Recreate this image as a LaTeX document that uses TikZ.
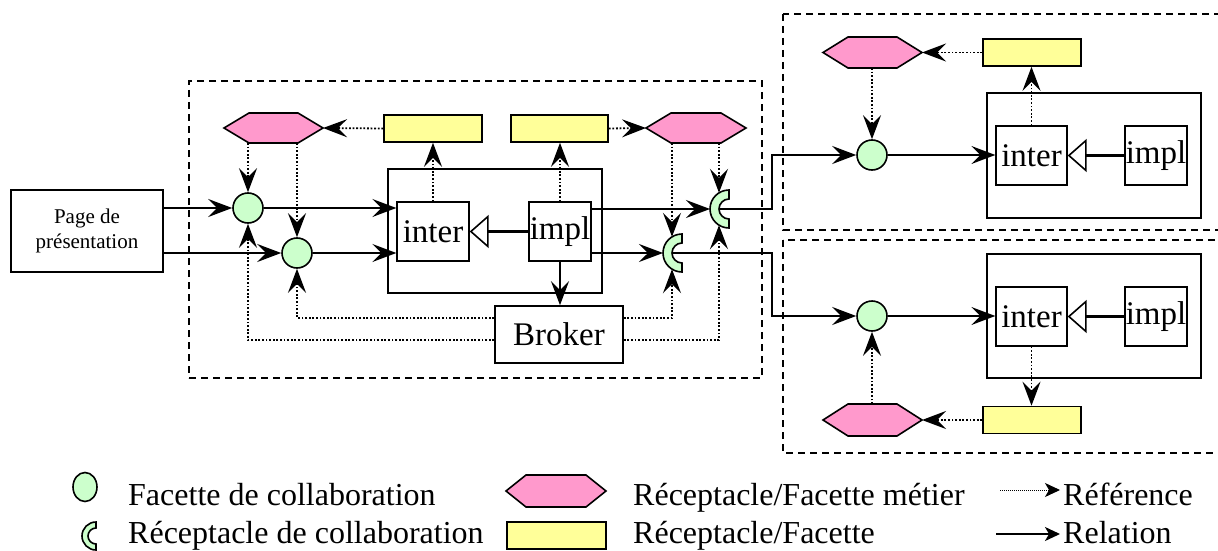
\documentclass[tikz,border=0pt]{standalone}
\usepackage{fontspec}
\setmainfont{Liberation Serif}
\usetikzlibrary{arrows.meta,shapes.geometric}
\definecolor{cgreen}{HTML}{CCFFCC}
\definecolor{cpink}{HTML}{FF99CC}
\definecolor{cyellow}{HTML}{FFFF99}
\newcommand\hexdraw[2]{%
  \draw[line width=1.6pt, fill=cpink, line join=miter] (#1.west) -- ([xshift=#2]#1.north west) -- ([xshift=-#2]#1.north east) -- (#1.east) -- ([xshift=-#2]#1.south east) -- ([xshift=#2]#1.south west) -- cycle;}
\newcommand\recdraw[3]{%
  \draw[line width=1.6pt, fill=cgreen] (#1.north) arc[start angle=90,end angle=270,radius=#2] -- ([yshift=-#3]#1.center) arc[start angle=270,end angle=90,radius=#3] -- cycle;}
\tikzset{
  big/.style={font=\fontsize{33}{38}\selectfont},
  hexa/.style={draw=none, inner sep=0pt, outer sep=0pt, minimum width=99pt, minimum height=30pt},
  ybox/.style={draw, line width=1.6pt, fill=cyellow, inner sep=0pt, minimum width=98pt, minimum height=27pt},
  facette/.style={circle, draw, line width=1.6pt, fill=cgreen, inner sep=0pt, minimum size=30pt},
  recep/.style={circle, draw=none, inner sep=0pt, outer sep=0pt, minimum size=38pt},
  compbox/.style={draw, line width=1.8pt, minimum width=214pt, minimum height=124pt},
  ibox/.style={draw, line width=1.3pt, big, inner sep=0pt, minimum height=59pt},
  dbox/.style={draw, line width=1.7pt, dash pattern=on 7pt off 5pt},
  rel/.style={line width=1.8pt, -{Stealth[length=24pt,width=18pt,inset=9pt]}},
  ref/.style={line width=1.8pt, dash pattern=on 1.8pt off 1.8pt, -{Stealth[length=24pt,width=18pt,inset=9pt]}},
  inherit/.style={line width=3pt, -{Triangle[length=19pt,width=33pt,fill=white,line width=1.6pt]}},
}
\begin{document}
\begin{tikzpicture}[x=1pt,y=-1pt]
\useasboundingbox (0,0) rectangle (1218,551);
\clip (0,0) rectangle (1218,551);
% dashed containers
\node[dbox, minimum width=573pt, minimum height=297pt] (lbox) at (475.5,229.5) {};
\draw[dbox] (783,14) rectangle (1260,230);
\draw[dbox] (783,240) rectangle (1260,453);

% left part
\node[draw, line width=1.6pt, minimum width=152pt, minimum height=82pt, align=center, font=\fontsize{21}{25}\selectfont] (page) at (87,231) {Page de\\présentation};
\node[hexa] (h1) at (273.5,128) {}; \hexdraw{h1}{25pt}
\node[hexa, minimum width=100pt] (h2) at (696,128) {}; \hexdraw{h2}{25pt}
\node[ybox] (y1) at (433,128.5) {};
\node[ybox, minimum width=97pt] (y2) at (559.5,128.5) {};
\node[compbox] (comp1) at (495,231) {};
\node[ibox, minimum width=72pt] (inter1) at (433,231.5) {inter};
\node[ibox, minimum width=62pt] (impl1) at (560,231.5) {impl};
\node[facette] (c1) at (248,208) {};
\node[facette] (c2) at (297,253) {};
\node[recep] (r1) at (729,209) {}; \recdraw{r1}{19pt}{10pt}
\node[recep] (r2) at (682,253) {}; \recdraw{r2}{19pt}{10pt}
\node[draw, line width=1.6pt, big, minimum width=128pt, minimum height=57pt] (broker) at (559,334.5) {Broker};
\coordinate (r1t) at (719,192.8);
\coordinate (r1b) at (719,225.2);
\coordinate (r2t) at (672,236.8);
\coordinate (r2b) at (672,269.2);
\coordinate (j1) at (772,209);
\coordinate (j2) at (772,253);

\draw[rel] (page.east |- c1) -- (c1.west);
\draw[rel] (page.east |- c2) -- (c2.west);
\draw[rel] (c1.east) -- (inter1.west |- c1);
\draw[rel] (c2.east) -- (inter1.west |- c2);
\draw[ref] (c1 |- h1.south) -- (c1.north);
\draw[ref] (c2 |- h1.south) -- (c2.north);
\draw[ref] (y1.west) -- (h1.east);
\draw[ref] (inter1.north) -- (inter1.north |- y1.south);
\draw[ref] (impl1.north) -- (impl1.north |- y2.south);
\draw[ref] (y2.east) -- (h2.west);
\draw[ref] (r2t |- h2.south) -- (r2t);
\draw[ref] (r1t |- h2.south) -- (r1t);
\draw[rel] (impl1.east |- r1) -- (r1.west);
\draw[rel] (impl1.east |- r2) -- (r2.west);
\draw[inherit] (impl1.west) -- (inter1.east);
\draw[rel] (impl1.south) -- (impl1.south |- broker.north);
\draw[ref] ([yshift=16.5pt]broker.west) -| (c2.south);
\draw[ref] ([yshift=-5.5pt]broker.west) -| (c1.south);
\draw[ref] ([yshift=16.5pt]broker.east) -| (r2b);
\draw[ref] ([yshift=-5.5pt]broker.east) -| (r1b);

% top right
\node[hexa, minimum height=31pt] (h3) at (872.5,52.5) {}; \hexdraw{h3}{25pt}
\node[ybox] (y3) at (1032,52.5) {};
\node[compbox, minimum height=125pt] (comp2) at (1094,155.5) {};
\node[ibox, minimum width=71pt] (inter2) at (1031.5,155.5) {inter};
\node[ibox, minimum width=62pt] (impl2) at (1156,155.5) {impl};
\node[facette] (c3) at (872,155) {};
\draw[rel] ([xshift=-10pt]r1.center) -- (j1) |- (c3.west);
\draw[rel] (c3.east) -- (inter2.west |- c3);
\draw[ref] (c3 |- h3.south) -- (c3.north);
\draw[ref] (y3.west) -- (h3.east);
\draw[ref] (inter2.north) -- (inter2.north |- y3.south);
\draw[inherit] (impl2.west) -- (inter2.east);

% bottom right
\node[hexa, minimum height=32pt] (h4) at (872.5,420) {}; \hexdraw{h4}{25pt}
\node[ybox] (y4) at (1032,420) {};
\node[compbox] (comp3) at (1094,316) {};
\node[ibox, minimum width=71pt] (inter3) at (1031.5,316.5) {inter};
\node[ibox, minimum width=62pt] (impl3) at (1156,316.5) {impl};
\node[facette] (c4) at (872,316) {};
\draw[rel] ([xshift=-10pt]r2.center) -- (j2) |- (c4.west);
\draw[rel] (c4.east) -- (inter3.west |- c4);
\draw[ref] (c4 |- h4.north) -- (c4.south);
\draw[ref] (y4.west) -- (h4.east);
\draw[ref] (inter3.south) -- (inter3.south |- y4.north);
\draw[inherit] (impl3.west) -- (inter3.east);

% legend
\node[ellipse, draw, line width=1.6pt, fill=cgreen, inner sep=0pt, minimum width=24pt, minimum height=29pt] (lgc) at (85,487) {};
\node[font=\fontsize{32}{38}\selectfont, anchor=base west, inner sep=0pt] (lgct) at (128,505) {Facette de collaboration};
\node[recep, minimum size=28pt] (lgr) at (96,536) {}; \recdraw{lgr}{14pt}{8pt}
\node[font=\fontsize{32}{38}\selectfont, anchor=base west, inner sep=0pt] (lgrt) at (128,543) {Réceptacle de collaboration};
\node[hexa, minimum width=100pt, minimum height=32pt] (lgh) at (556,491) {}; \hexdraw{lgh}{20pt}
\node[font=\fontsize{32}{38}\selectfont, anchor=base west, inner sep=0pt] (lght) at (633,505) {Réceptacle/Facette métier};
\node[ybox, minimum width=99pt] (lgy) at (556.5,535.5) {};
\node[font=\fontsize{32}{38}\selectfont, anchor=base west, inner sep=0pt] (lgyt) at (633,543) {Réceptacle/Facette};
\coordinate (lga1) at (1000,490);
\coordinate (lga2) at (1060,490);
\draw[line width=1pt, dash pattern=on 1pt off 1pt, -{Stealth[length=15pt,width=14pt,inset=4pt]}] (lga1) -- (lga2);
\node[font=\fontsize{32}{38}\selectfont, anchor=base west, inner sep=0pt] (lgat) at (1063,505) {Référence};
\coordinate (lgb1) at (996,534);
\coordinate (lgb2) at (1060,534);
\draw[line width=1.8pt, -{Stealth[length=15pt,width=14pt,inset=4pt]}] (lgb1) -- (lgb2);
\node[font=\fontsize{32}{38}\selectfont, anchor=base west, inner sep=0pt] (lgbt) at (1063,543) {Relation};
\end{tikzpicture}
\end{document}
